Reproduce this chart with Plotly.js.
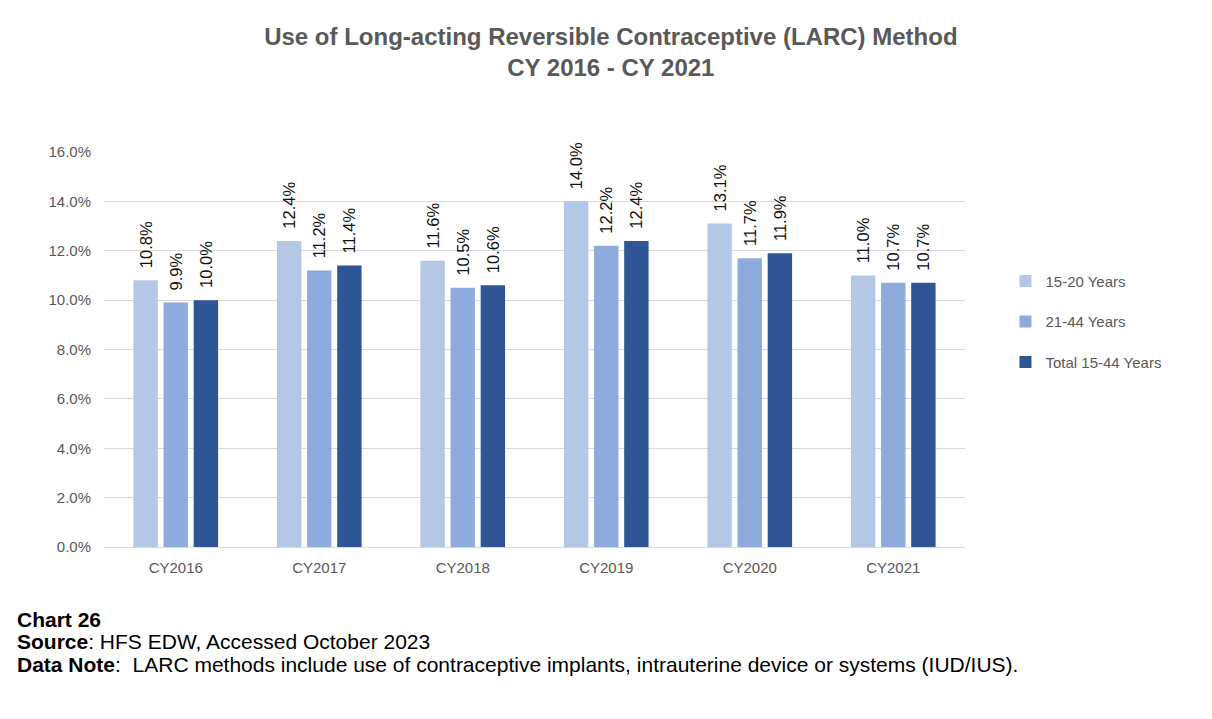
<!DOCTYPE html>
<html><head><meta charset="utf-8">
<script src="https://cdn.plot.ly/plotly-3.0.1.min.js"></script>
<style>body{margin:0;background:#fff;}#chart{width:1212px;height:719px;}</style>
</head><body><div id="chart"></div>
<script>
const categories = ["CY2016","CY2017","CY2018","CY2019","CY2020","CY2021"];
const seriesNames = ["15-20 Years","21-44 Years","Total 15-44 Years"];
const age15to20 = [10.8, 12.4, 11.6, 14.0, 13.1, 11.0];
const age21to44 = [9.9, 11.2, 10.5, 12.2, 11.7, 10.7];
const total15to44 = [10.0, 11.4, 10.6, 12.4, 11.9, 10.7];
const colors = ["#B4C7E7","#8FAADC","#2F5597"];
const allSeries = [age15to20, age21to44, total15to44];

const traces = allSeries.map((vals, i) => ({
  type: "bar",
  name: seriesNames[i],
  legendgroup: "g" + i,
  x: categories,
  y: vals.map(v => v/100),
  marker: {color: colors[i]},
  text: vals.map(v => "\u00A0\u00A0" + v.toFixed(1) + "%"),
  textposition: "outside",
  textangle: -90,
  constraintext: "none",
  cliponaxis: false,
  textfont: {family: "Liberation Sans, Arial, sans-serif", size: 16.5, color: "#111"},
  hoverinfo: "none"
}));

const layout = {
  width: 1212, height: 719,
  paper_bgcolor: "#fff", plot_bgcolor: "#fff",
  margin: {l: 104, r: 247, t: 152, b: 172},
  font: {family: "Liberation Sans, Arial, sans-serif", color: "#595959"},
  title: {
    text: "<b>Use of Long-acting Reversible Contraceptive (LARC) Method<br>CY 2016 - CY 2021</b>",
    x: 0.504, xanchor: "center", xref: "container",
    y: 0.937, yanchor: "top", yref: "container",
    font: {family: "Liberation Sans, Arial, sans-serif", size: 24, color: "#595959"}
  },
  barmode: "group",
  bargap: 0.37,
  bargroupgap: 0.19,
  xaxis: {
    showline: false, ticks: "", showgrid: false,
    ticklabelstandoff: 10,
    tickfont: {size: 15, color: "#595959"}
  },
  yaxis: {
    range: [0, 0.16], dtick: 0.02, tickformat: ".1%",
    showgrid: true, gridcolor: "#D9D9D9", gridwidth: 1,
    zeroline: true, zerolinecolor: "#D9D9D9", zerolinewidth: 1,
    showline: false, ticks: "", ticklen: 0,
    ticklabelstandoff: 12,
    tickfont: {size: 15, color: "#595959"}
  },
  legend: {
    x: 1.047, xanchor: "left", y: 0.57, yanchor: "middle",
    font: {size: 15, color: "#595959"},
    tracegroupgap: 18, itemwidth: 30
  },
  showlegend: true,
  annotations: [
    {xref: "paper", yref: "paper", x: -0.1034, y: -0.1848, xanchor: "left", yanchor: "middle", showarrow: false, align: "left",
     text: "<b>Chart 26</b>", font: {family: "Liberation Sans, Arial, sans-serif", size: 21, color: "#000"}},
    {xref: "paper", yref: "paper", x: -0.1034, y: -0.238, xanchor: "left", yanchor: "middle", showarrow: false, align: "left",
     text: "<b>Source</b>: HFS EDW, Accessed October 2023", font: {family: "Liberation Sans, Arial, sans-serif", size: 21, color: "#000"}},
    {xref: "paper", yref: "paper", x: -0.1034, y: -0.2987, xanchor: "left", yanchor: "middle", showarrow: false, align: "left",
     text: "<b>Data Note</b>:  LARC methods include use of contraceptive implants, intrauterine device or systems (IUD/IUS).", font: {family: "Liberation Sans, Arial, sans-serif", size: 21, color: "#000"}}
  ]
};

Plotly.newPlot("chart", traces, layout, {displayModeBar: false, staticPlot: true});
</script></body></html>
